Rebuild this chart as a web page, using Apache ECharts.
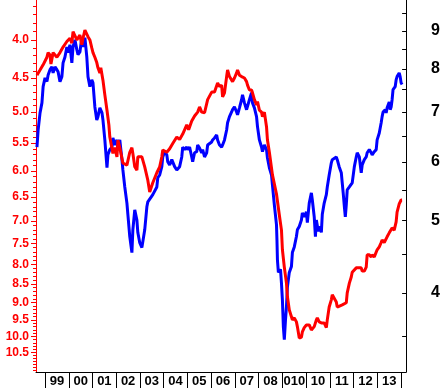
<!DOCTYPE html>
<html><head><meta charset="utf-8">
<script src="https://cdn.jsdelivr.net/npm/echarts@6/dist/echarts.min.js"></script>
<style>html,body{margin:0;padding:0;background:#fff}#c{width:443px;height:388px}</style>
</head><body><div id="c"></div>
<script>
// ---- data ----
const yearTicks = [1999,2000,2001,2002,2003,2004,2005,2006,2007,2008,2009,2010,2011,2012,2013,2014];
const yearLabels = ['99','00','01','02','03','04','05','06','07','08','010','10','11','12','13'];
const leftLabels = [4.0,4.5,5.0,5.5,6.0,6.5,7.0,7.5,8.0,8.5,9.0,9.5,10.0,10.5];
const rightLabels = [4,5,6,7,8,9];
const rightTicks = [3.5,4,4.5,5,5.5,6,6.5,7,7.5,8,8.5,9,9.5];

const redT = [1998.66,1998.79,1998.92,1999.08,1999.13,1999.21,1999.25,1999.34,1999.50,1999.63,1999.76,1999.92,
2000.05,2000.13,2000.18,2000.26,2000.34,2000.47,2000.55,2000.60,2000.68,2000.76,2000.81,2000.89,2000.97,
2001.02,2001.10,2001.18,2001.23,2001.31,2001.35,2001.44,2001.52,2001.61,2001.69,2001.73,2001.86,2001.94,
2002.03,2002.07,2002.15,2002.28,2002.45,2002.57,2002.66,2002.70,2002.78,2002.87,2002.91,
2003.08,2003.20,2003.33,2003.41,2003.54,2003.71,2003.83,2003.92,2003.96,
2004.13,2004.25,2004.38,2004.55,2004.67,2004.80,2004.97,
2005.05,2005.18,2005.30,2005.43,2005.51,2005.60,2005.72,2005.85,
2006.02,2006.14,2006.27,2006.35,2006.44,2006.48,2006.56,2006.65,2006.69,2006.77,2006.90,2006.98,
2007.07,2007.11,2007.19,2007.28,2007.40,2007.49,2007.53,2007.61,2007.70,2007.74,2007.82,2007.91,2007.95,
2008.03,2008.12,2008.16,2008.24,2008.33,2008.37,2008.45,2008.58,2008.75,2008.87,2008.96,
2009.00,2009.08,2009.17,2009.21,2009.29,2009.38,2009.42,2009.50,2009.59,2009.63,2009.71,2009.80,2009.84,2009.92,
2010.01,2010.13,2010.22,2010.26,2010.34,2010.43,2010.47,2010.55,2010.64,2010.68,2010.76,2010.85,2010.89,2010.97,
2011.06,2011.10,2011.18,2011.27,2011.31,2011.39,2011.52,2011.69,2011.73,2011.82,2011.90,2011.94,
2012.11,2012.15,2012.32,2012.36,2012.45,2012.53,2012.57,2012.66,2012.74,2012.78,2012.87,2012.95,2012.99,
2013.08,2013.16,2013.20,2013.29,2013.37,2013.41,2013.50,2013.58,2013.62,2013.71,2013.79,2013.83,2013.92,
2014.00,2014.04];
const redV = [4.46,4.39,4.32,4.22,4.16,4.19,4.31,4.16,4.22,4.16,4.09,4.02,
3.98,4.04,3.90,3.88,4.00,3.94,4.06,3.98,3.88,3.90,3.96,4.00,4.10,
4.16,4.22,4.29,4.36,4.43,4.36,4.53,4.74,4.97,5.20,5.40,5.68,5.58,
5.74,5.45,5.58,5.85,5.89,5.66,5.58,5.68,5.92,5.98,5.74,
5.74,5.92,6.17,6.40,6.22,6.03,5.92,5.74,5.62,
5.66,5.60,5.51,5.40,5.44,5.35,5.20,
5.28,5.14,5.06,5.00,4.92,5.00,5.01,4.81,
4.70,4.70,4.57,4.62,4.60,4.77,4.71,4.48,4.39,4.48,4.55,4.50,
4.43,4.39,4.46,4.48,4.50,4.55,4.60,4.67,4.67,4.71,4.81,4.89,4.84,
4.97,5.00,5.07,5.00,5.23,5.45,5.66,6.07,6.44,6.87,7.20,
7.65,8.07,8.48,8.84,9.21,9.41,9.50,9.44,9.56,9.70,10.05,10.02,9.86,9.73,
9.65,9.65,9.80,9.86,9.70,9.50,9.44,9.56,9.59,9.56,9.59,9.73,9.50,9.13,
8.93,8.79,8.79,8.99,9.13,9.13,9.07,9.01,8.74,8.48,8.32,8.20,
8.09,8.07,8.09,8.17,8.17,8.07,7.77,7.77,7.82,7.77,7.82,7.82,7.65,
7.58,7.48,7.42,7.48,7.46,7.35,7.26,7.24,7.15,7.20,7.02,6.81,6.64,
6.56,6.56];

const blueT = [1998.66,1998.71,1998.79,1998.87,1998.92,
1999.00,1999.08,1999.13,1999.21,1999.29,1999.34,1999.42,1999.50,1999.55,1999.63,1999.71,1999.76,1999.84,1999.92,1999.97,
2000.05,2000.13,2000.18,2000.26,2000.34,2000.39,2000.47,2000.55,2000.60,2000.68,2000.76,2000.81,2000.89,2000.97,
2001.02,2001.10,2001.18,2001.23,2001.31,2001.40,2001.44,2001.52,2001.61,2001.65,2001.73,2001.82,2001.86,2001.94,
2002.03,2002.07,2002.15,2002.24,2002.28,2002.36,2002.45,2002.49,2002.57,2002.66,2002.70,2002.78,2002.87,2002.91,2002.99,
2003.08,2003.12,2003.20,2003.29,2003.33,2003.41,2003.54,2003.71,2003.75,2003.83,2003.92,2003.96,
2004.04,2004.13,2004.17,2004.25,2004.34,2004.38,2004.46,2004.55,2004.67,2004.76,2004.80,2004.88,2004.97,
2005.01,2005.09,2005.18,2005.22,2005.30,2005.39,2005.43,2005.51,2005.60,2005.64,2005.72,2005.81,2005.85,
2006.02,2006.06,2006.14,2006.23,2006.27,2006.35,2006.44,2006.48,2006.56,2006.65,2006.69,2006.77,2006.86,2006.90,2006.98,
2007.07,2007.11,2007.19,2007.28,2007.32,2007.40,2007.49,2007.53,2007.61,2007.70,2007.74,2007.82,2007.91,2007.95,
2008.03,2008.12,2008.16,2008.24,2008.33,2008.37,2008.45,2008.54,2008.58,2008.66,2008.75,2008.77,2008.79,2008.83,2008.92,2008.96,
2009.00,2009.04,2009.08,2009.13,2009.17,2009.21,2009.29,2009.38,2009.42,2009.50,2009.59,2009.63,2009.71,2009.80,2009.84,2009.92,
2010.01,2010.05,2010.13,2010.22,2010.26,2010.34,2010.39,2010.43,2010.51,2010.60,2010.64,2010.68,2010.76,2010.85,2010.89,2010.97,
2011.06,2011.10,2011.18,2011.27,2011.31,2011.39,2011.48,2011.52,2011.56,2011.61,2011.65,2011.69,2011.73,2011.82,2011.90,2011.94,
2012.03,2012.11,2012.15,2012.24,2012.32,2012.36,2012.45,2012.53,2012.57,2012.66,2012.74,2012.78,2012.87,2012.95,2012.99,
2013.08,2013.16,2013.20,2013.24,2013.33,2013.37,2013.41,2013.50,2013.54,2013.58,2013.62,2013.66,2013.75,2013.79,2013.83,2013.92,2013.96,
2014.00,2014.04];
const blueV = [6.28,6.62,6.98,7.20,7.57,
7.78,7.69,7.85,7.98,8.05,7.90,8.05,7.98,7.93,7.69,7.81,8.15,8.30,8.56,8.41,
8.62,8.15,8.56,8.75,8.49,8.36,8.43,8.81,8.56,8.81,8.30,7.81,7.57,7.73,
7.66,7.11,6.83,6.90,7.09,6.98,6.83,6.42,5.89,6.13,6.23,6.28,6.46,6.32,
6.42,6.26,6.42,6.04,5.85,5.55,5.28,5.10,4.76,4.53,4.86,5.17,5.01,4.82,4.67,
4.60,4.61,4.86,5.22,5.30,5.33,5.42,5.55,5.71,5.76,5.91,6.09,
6.19,6.13,6.00,5.94,6.04,6.07,5.91,5.85,5.91,6.09,6.28,6.23,6.28,
6.23,6.28,6.09,6.00,6.17,6.19,6.32,6.26,6.17,6.23,6.09,6.17,6.32,
6.38,6.42,6.46,6.52,6.42,6.32,6.28,6.32,6.42,6.62,6.77,6.90,7.00,7.05,7.11,
7.00,6.94,7.09,7.27,7.38,7.20,7.05,7.09,7.27,7.43,7.20,7.09,6.90,6.69,
6.42,6.28,6.19,6.32,6.23,6.07,5.89,5.76,5.58,5.25,4.94,4.71,4.43,4.26,4.30,4.12,
3.91,3.60,3.46,3.68,3.83,4.07,4.26,4.34,4.53,4.61,4.76,4.86,4.91,5.01,5.12,5.06,
5.14,4.97,5.28,5.45,5.33,5.06,4.76,5.01,4.84,4.91,4.82,5.10,5.28,5.42,5.55,5.76,
5.98,6.04,6.07,6.09,6.04,5.91,5.80,5.62,5.45,5.22,5.06,5.25,5.50,5.55,5.53,5.62,
5.91,6.09,6.17,6.09,5.80,5.94,6.04,6.09,6.17,6.23,6.17,6.13,6.19,6.23,6.42,
6.56,6.77,6.90,7.00,7.05,6.98,7.09,7.22,7.05,7.11,7.27,7.50,7.57,7.73,7.81,7.90,7.81,
7.66,7.62];

// ---- build ----
const zip = (t, v) => t.slice(0, Math.min(t.length, v.length)).map((x, i) => [x, v[i]]);
const leftMinor = [];
for (let k = 36; k <= 111; k++) leftMinor.push(k / 10);
const labelPos = yearLabels.map((_, i) => yearTicks[i] + 0.5);
const FONT = '"Liberation Sans", Arial, sans-serif';

const chart = echarts.init(document.getElementById('c'));
chart.setOption({
  animation: false,
  backgroundColor: '#ffffff',
  grid: { left: 36, right: 36, top: 0, bottom: 16, containLabel: false },
  xAxis: {
    type: 'value', min: 1998.62, max: 2014.21,
    splitLine: { show: false },
    axisLine: { show: true, lineStyle: { color: '#000', width: 1 } },
    axisTick: { show: true, customValues: yearTicks, length: 16, lineStyle: { color: '#000', width: 1 } },
    axisLabel: {
      customValues: labelPos,
      formatter: v => yearLabels[Math.round(v - 1999.5)],
      color: '#000', fontWeight: 'bold', fontSize: 13, fontFamily: FONT, margin: 3
    }
  },
  yAxis: [
    {
      type: 'log', logBase: 10, inverse: true, min: 3.536, max: 11.16, position: 'left',
      splitLine: { show: false },
      axisLine: { show: true, lineStyle: { color: '#ff0000', width: 1 } },
      axisTick: { show: true, customValues: leftLabels, length: 5, lineStyle: { color: '#ff0000' } },
      axisLabel: {
        customValues: leftLabels, formatter: v => Number(v).toFixed(1),
        color: '#ff0000', fontWeight: 'bold', fontSize: 12, fontFamily: FONT, margin: 7
      }
    },
    {
      type: 'log', logBase: 10, min: 3.13, max: 9.90, position: 'right',
      splitLine: { show: false },
      axisLine: { show: true, lineStyle: { color: '#000', width: 1 } },
      axisTick: { show: true, inside: true, customValues: rightTicks, length: 4, lineStyle: { color: '#000' } },
      axisLabel: {
        customValues: rightLabels, formatter: v => String(Math.round(v)),
        color: '#000', fontWeight: 'bold', fontSize: 16, fontFamily: FONT, margin: 25
      }
    },
    {
      type: 'log', logBase: 10, inverse: true, min: 3.536, max: 11.16, position: 'left',
      splitLine: { show: false },
      axisLine: { show: false },
      axisTick: { show: true, customValues: leftMinor, length: 3, lineStyle: { color: '#ff0000' } },
      axisLabel: { show: false }
    }
  ],
  series: [
    {
      type: 'line', yAxisIndex: 1, data: zip(blueT, blueV), symbol: 'none', showSymbol: false,
      lineStyle: { color: '#0000ff', width: 3 }, itemStyle: { color: '#0000ff' }, z: 2
    },
    {
      type: 'line', yAxisIndex: 0, data: zip(redT, redV), symbol: 'none', showSymbol: false,
      lineStyle: { color: '#ff0000', width: 3 }, itemStyle: { color: '#ff0000' }, z: 3
    }
  ]
});
</script></body></html>
